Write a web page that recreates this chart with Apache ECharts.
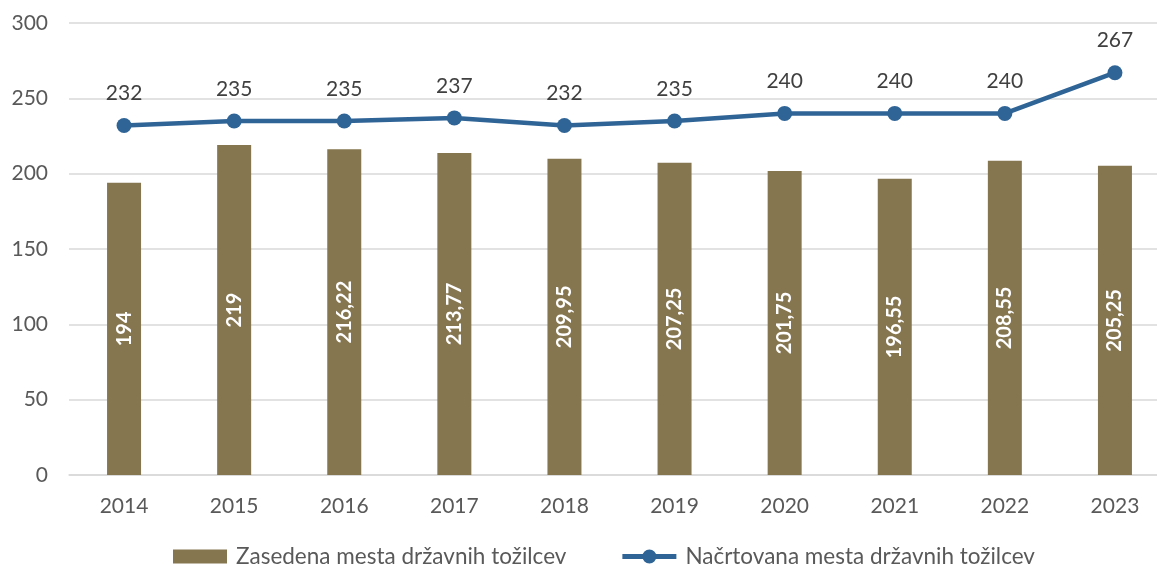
<!DOCTYPE html>
<html>
<head>
<meta charset="utf-8">
<script src="https://cdn.jsdelivr.net/npm/echarts@6/dist/echarts.min.js"></script>
<style>html,body{margin:0;padding:0;background:#fff;overflow:hidden}#c{width:1171px;height:570px}</style>
</head>
<body>
<div id="c"></div>
<script>
const categories = ['2014','2015','2016','2017','2018','2019','2020','2021','2022','2023'];
const occupied = [194, 219, 216.22, 213.77, 209.95, 207.25, 201.75, 196.55, 208.55, 205.25];
const planned = [232, 235, 235, 237, 232, 235, 240, 240, 240, 267];
const yTicks = [0, 50, 100, 150, 200, 250, 300];
const barName = 'Zasedena mesta državnih tožilcev';
const lineName = 'Načrtovana mesta državnih tožilcev';

const font = 'Lato, "Open Sans", sans-serif';
const fmt = v => String(v).replace('.', ',');
const lineIcon = 'path://M0,4.5H54V9.5H0Z M20,7A7,7 0 1,1 34,7A7,7 0 1,1 20,7Z';

const chart = echarts.init(document.getElementById('c'), null, {renderer: 'canvas'});
chart.setOption({
  animation: false,
  textStyle: {fontFamily: font},
  grid: {left: 69, top: 23, width: 1101, height: 452, containLabel: false},
  legend: {
    left: 168, top: 540,
    itemWidth: 54, itemHeight: 14, itemGap: 56,
    textStyle: {fontFamily: font, fontSize: 22.5, color: '#595959', padding: [0, 0, 0, 4]},
    data: [
      {name: barName, icon: 'rect'},
      {name: lineName, icon: lineIcon, itemStyle: {color: '#2F6497'}}
    ]
  },
  xAxis: {
    type: 'category', data: categories,
    axisLine: {show: true, lineStyle: {color: '#D9D9D9', width: 1.5}},
    axisTick: {show: false},
    axisLabel: {fontFamily: font, fontSize: 21, color: '#595959', margin: 21}
  },
  yAxis: {
    type: 'value', min: yTicks[0], max: yTicks[yTicks.length - 1], interval: 50,
    axisLine: {show: false}, axisTick: {show: false},
    splitLine: {lineStyle: {color: '#D9D9D9', width: 1.5}},
    axisLabel: {fontFamily: font, fontSize: 21, color: '#595959', margin: 21}
  },
  series: [
    {
      name: barName, type: 'bar', data: occupied, barWidth: 34,
      itemStyle: {color: '#86764F'},
      label: {
        show: true, position: 'inside', rotate: 90,
        color: '#ffffff', fontWeight: 'bold', fontSize: 20, fontFamily: font,
        formatter: p => fmt(p.value)
      }
    },
    {
      name: lineName, type: 'line', data: planned,
      symbol: 'circle', symbolSize: 15,
      lineStyle: {color: '#2F6497', width: 4.5},
      itemStyle: {color: '#2F6497'},
      label: {show: true, position: 'top', distance: 14, fontSize: 21, color: '#404040', fontFamily: font}
    }
  ]
});
</script>
</body>
</html>
